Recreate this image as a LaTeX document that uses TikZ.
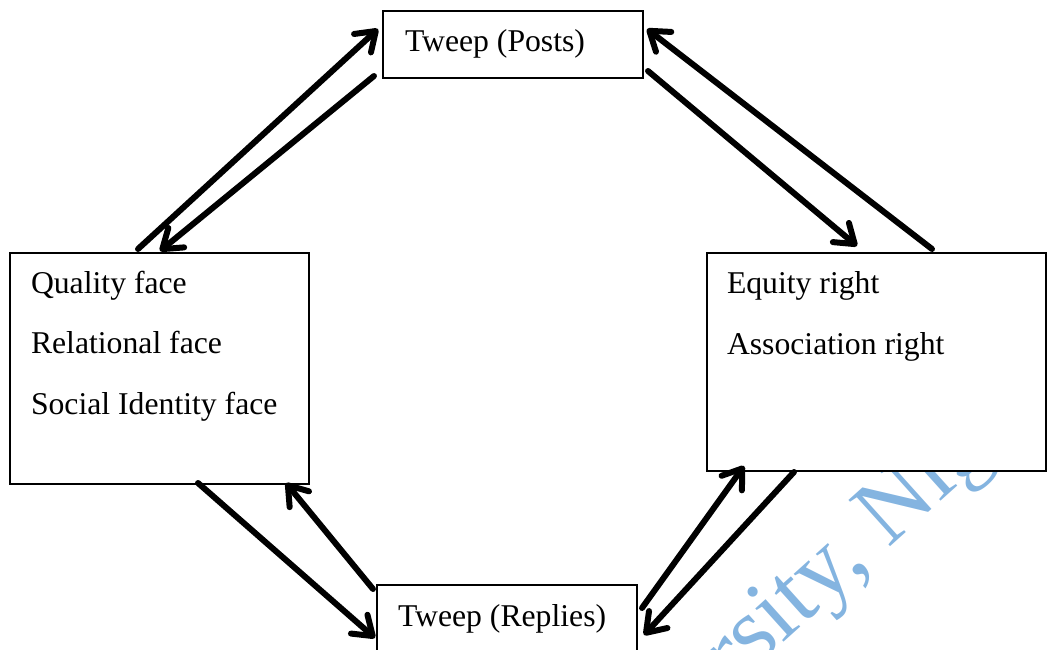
\documentclass[tikz,border=0pt]{standalone}
\usepackage{fontspec}
\setmainfont{Liberation Serif}
\usetikzlibrary{arrows.meta}
\definecolor{wmblue}{RGB}{132,180,224}
\begin{document}
\begin{tikzpicture}[x=1pt,y=-1pt,
  box/.style={draw=black, line width=1.6pt, fill=white, inner sep=0pt, outer sep=0pt},
  lbl/.style={anchor=base west, inner sep=0pt, outer sep=0pt, font=\fontsize{31.7}{38}\selectfont},
  conn/.style={line width=6pt, line cap=round, -{Straight Barb[length=18pt,width=25pt,round]}},
  wm/.style={anchor=base west, inner sep=0pt, outer sep=0pt, text=wmblue, rotate=42, font=\fontsize{95}{105}\selectfont}
]
\useasboundingbox (0,0) rectangle (1047,650);
\clip (0,0) rectangle (1047,650);

% watermark
\node[wm] (wmark) at (732,689) {rsity, Nig};

% boxes
\node[box, minimum width=260pt, minimum height=67pt] (posts) at (513,44.5) {};
\node[box, minimum width=299pt, minimum height=231pt] (faces) at (159.5,368.5) {};
\node[box, minimum width=339pt, minimum height=218pt] (rights) at (876.5,362) {};
\node[box, minimum width=260pt, minimum height=67pt] (replies) at (507,618.5) {};

% labels
\node[lbl] (tposts) at (405,52) {Tweep (Posts)};
\node[lbl] (f1) at (31,293) {Quality face};
\node[lbl] (f2) at (31,353) {Relational face};
\node[lbl] (f3) at (31,414) {Social Identity face};
\node[lbl] (r1) at (727,293) {Equity right};
\node[lbl] (r2) at (727,354) {Association right};
\node[lbl] (treplies) at (398,626) {Tweep (Replies)};

% connector end points
\coordinate (a1s) at (138,249);  \coordinate (a1e) at (378,29);
\coordinate (a2s) at (374,76);   \coordinate (a2e) at (160,251);
\coordinate (a3s) at (932,249);  \coordinate (a3e) at (647,29);
\coordinate (a4s) at (648,71);   \coordinate (a4e) at (857,246);
\coordinate (a5s) at (198,483);  \coordinate (a5e) at (375,638);
\coordinate (a6s) at (373,589);  \coordinate (a6e) at (286,483);
\coordinate (a7s) at (642,608);  \coordinate (a7e) at (744,466);
\coordinate (a8s) at (794,472);  \coordinate (a8e) at (644,635);

\draw[conn] (a1s) -- (a1e);
\draw[conn] (a2s) -- (a2e);
\draw[conn] (a3s) -- (a3e);
\draw[conn] (a4s) -- (a4e);
\draw[conn] (a5s) -- (a5e);
\draw[conn] (a6s) -- (a6e);
\draw[conn] (a7s) -- (a7e);
\draw[conn] (a8s) -- (a8e);
\end{tikzpicture}
\end{document}
